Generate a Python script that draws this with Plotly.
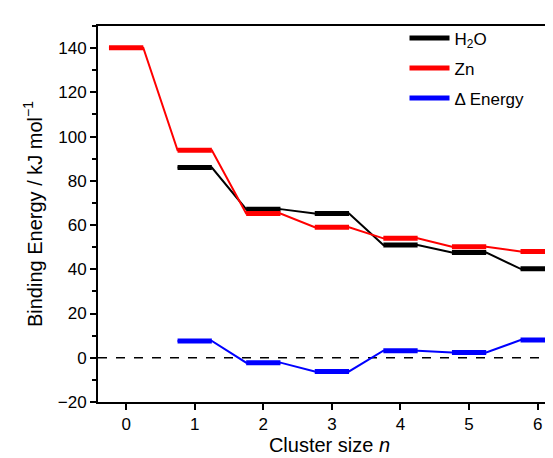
import plotly.graph_objects as go

n_zn = [0, 1, 2, 3, 4, 5, 6]
zn = [140.2, 93.8, 65.2, 59.0, 54.0, 50.2, 48.0]
n_h2o = [1, 2, 3, 4, 5, 6]
h2o = [86.0, 67.2, 65.2, 51.0, 47.6, 40.2]
n_delta = [1, 2, 3, 4, 5, 6]
delta = [7.6, -2.2, -6.2, 3.2, 2.4, 8.0]
x_ticks = [0, 1, 2, 3, 4, 5, 6]

half = 0.25

def path(ns, vals):
    xs, ys = [], []
    for n, v in zip(ns, vals):
        xs += [n - half, n + half]
        ys += [v, v]
    return xs, ys

def levels(ns, vals):
    xs, ys = [], []
    for n, v in zip(ns, vals):
        xs += [n - half, n + half, None]
        ys += [v, v, None]
    return xs, ys

fig = go.Figure()

series = [("H<sub>2</sub>O", n_h2o, h2o, "#000000"),
          ("Zn", n_zn, zn, "#ff0000"),
          ("\u0394 Energy", n_delta, delta, "#0000ff")]

# zero reference line
fig.add_shape(type="line", xref="paper", x0=0, x1=1, yref="y", y0=0, y1=0,
              line=dict(color="black", width=1.3, dash="dash"), layer="below")

for name, ns, vals, col in series:
    px, py = path(ns, vals)
    fig.add_trace(go.Scatter(x=px, y=py, mode="lines", line=dict(color=col, width=2),
                             showlegend=False, hoverinfo="skip"))
for i, (name, ns, vals, col) in enumerate(series):
    lx, ly = levels(ns, vals)
    fig.add_trace(go.Scatter(x=lx, y=ly, mode="lines", name=name, legendgroup=f"g{i}",
                             line=dict(color=col, width=5)))

font = dict(family="Liberation Sans, Arial, sans-serif", size=17, color="black")

fig.update_layout(
    width=553, height=458,
    margin=dict(l=90, r=0, t=18, b=64),
    paper_bgcolor="white", plot_bgcolor="white",
    font=font,
    showlegend=True,
    legend=dict(x=0.662, y=1.015, xanchor="left", yanchor="top",
                bgcolor="rgba(0,0,0,0)", font=dict(size=17),
                tracegroupgap=5, itemwidth=40),
    xaxis=dict(range=[-0.41, 6.34], tickmode="array", tickvals=x_ticks,
               ticks="outside", ticklen=6, tickwidth=2, tickcolor="black",
               showline=True, linewidth=2, linecolor="black", mirror=True,
               showgrid=False, zeroline=False, automargin=False,
               title=dict(text="Cluster size <i>n</i>", standoff=3)),
    yaxis=dict(range=[-20, 150], tickmode="array", tickvals=[-20, 0, 20, 40, 60, 80, 100, 120, 140],
               ticks="outside", ticklen=6, tickwidth=2, tickcolor="black",
               minor=dict(tickvals=[-10, 10, 30, 50, 70, 90, 110, 130, 150], ticks="outside",
                          ticklen=4, tickwidth=2, tickcolor="black"),
               showline=True, linewidth=2, linecolor="black",
               showgrid=False, zeroline=False, automargin=False,
               title=dict(text="Binding Energy / kJ mol<sup>\u22121</sup>", standoff=10)),
)

fig.write_html("out.html")
